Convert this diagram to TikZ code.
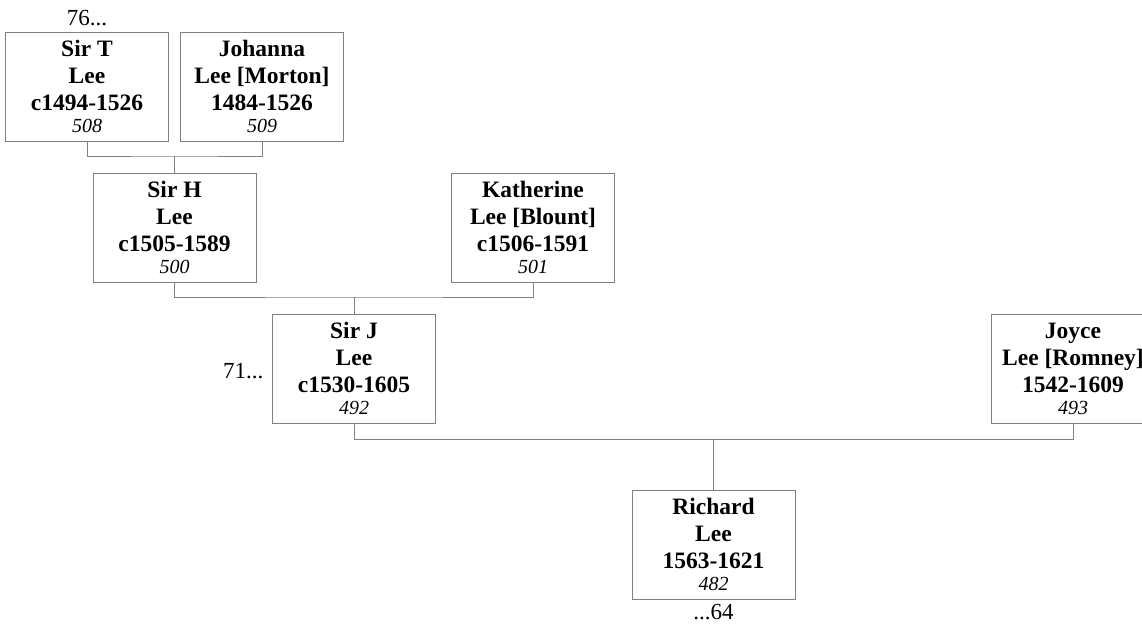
\documentclass[tikz,border=0pt]{standalone}
\usepackage{fontspec}
\setmainfont{Liberation Serif}
\definecolor{linkgray}{RGB}{128,128,128}
\newcommand{\refnum}[1]{\\[-5pt]{\fontsize{20}{22}\selectfont\mdseries\itshape #1}}
\begin{document}
\begin{tikzpicture}[x=1pt, y=-1pt,
  person/.style={draw=linkgray, line width=1pt, minimum width=163pt, minimum height=109pt,
    inner sep=0pt, align=center, font=\fontsize{23.5}{27}\selectfont\bfseries},
  link/.style={draw=linkgray, line width=1pt},
  more/.style={font=\fontsize{23}{27}\selectfont}]
  \clip (0,0) rectangle (1142,625);

  % Grandparents
  \node[person] (sirT) at (87, 86.5) {Sir T\\Lee\\c1494-1526\refnum{508}};
  \node[person] (johanna) at (262, 86.5) {Johanna\\Lee [Morton]\\1484-1526\refnum{509}};
  \node[more, anchor=base] (up76) at (87, 25) {76...};

  % Parents
  \node[person] (sirH) at (174.5, 227.5) {Sir H\\Lee\\c1505-1589\refnum{500}};
  \node[person] (katherine) at (533, 227.5) {Katherine\\Lee [Blount]\\c1506-1591\refnum{501}};

  % Couple
  \node[person] (sirJ) at (354, 368.5) {Sir J\\Lee\\c1530-1605\refnum{492}};
  \node[person] (joyce) at (1073, 368.5) {Joyce\\Lee [Romney]\\1542-1609\refnum{493}};
  \node[more, anchor=base east] (up71) at (267, 378) {71...};

  % Child
  \node[person] (richard) at (713.5, 544.5) {Richard\\Lee\\1563-1621\refnum{482}};
  \node[more, anchor=base] (down64) at (713.5, 619) {...64};

  % Links
  \coordinate (u1) at (174.5, 156);
  \coordinate (u2) at (354, 297);
  \coordinate (u3) at (713.5, 439);
  \draw[link] (sirT.south) |- (u1) -| (johanna.south);
  \draw[link] (u1) -- (sirH.north);
  \draw[link] (sirH.south) |- (u2) -| (katherine.south);
  \draw[link] (u2) -- (sirJ.north);
  \draw[link] (sirJ.south) |- (u3) -| (joyce.south);
  \draw[link] (u3) -- (richard.north);
\end{tikzpicture}
\end{document}
